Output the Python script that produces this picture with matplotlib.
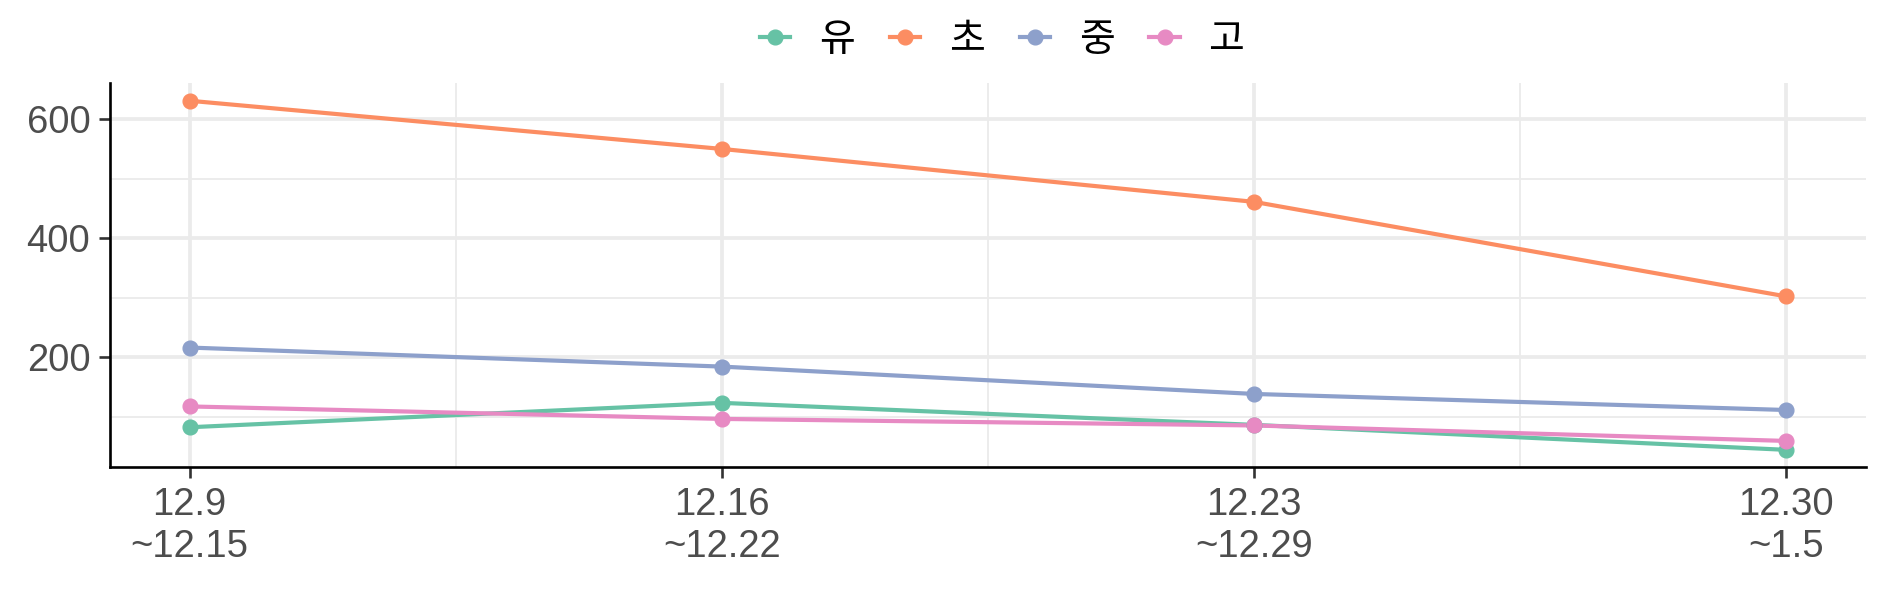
import numpy as np
import matplotlib
matplotlib.use("Agg")
from matplotlib import pyplot as plt
from matplotlib.lines import Line2D

plt.rcParams["font.family"] = ["Liberation Sans", "Noto Sans CJK KR", "DejaVu Sans"]

# Data
periods = ["12.9\n~12.15", "12.16\n~12.22", "12.23\n~12.29", "12.30\n~1.5"]
groups = ["유", "초", "중", "고"]
kindergarten = [82, 123, 86, 44]
elementary = [631, 550, 461, 302]
middle = [216, 184, 138, 111]
high = [117, 96, 85, 59]
series = [kindergarten, elementary, middle, high]
colors = ["#66C2A5", "#FC8D62", "#8DA0CB", "#E78AC3"]

W, H = 1889, 590
fig = plt.figure(figsize=(W / 100, H / 100), dpi=100)
ax = fig.add_axes([109.8 / W, 1 - 467.3 / H, (1866 - 109.8) / W, (467.3 - 83.3) / H])

x = np.arange(1, len(periods) + 1)

# Grid (ggplot-like)
for v in [1.5, 2.5, 3.5]:
    ax.axvline(v, color="#EBEBEB", lw=1.3, zorder=0)
for v in x:
    ax.axvline(v, color="#EBEBEB", lw=2.7, zorder=0)
for v in [100, 300, 500]:
    ax.axhline(v, color="#EBEBEB", lw=1.3, zorder=0)
for v in [200, 400, 600]:
    ax.axhline(v, color="#EBEBEB", lw=2.7, zorder=0)

for vals, c in zip(series, colors):
    ax.plot(x, vals, color=c, lw=3.0, zorder=2, solid_capstyle="butt")
for vals, c in zip(series, colors):
    ax.plot(x, vals, "o", color=c, ms=10.6, zorder=3)

allv = np.concatenate([np.array(s) for s in series])
lo, hi = allv.min(), allv.max()
pad = (hi - lo) * 0.05
ax.set_ylim(lo - pad, hi + pad)
ax.set_xlim(1 - 0.15, 4 + 0.15)

ax.set_xticks(x)
ax.set_xticklabels(periods, fontsize=27.5, color="#4D4D4D", linespacing=1.22)
ax.set_yticks([200, 400, 600])
ax.set_yticklabels(["200", "400", "600"], fontsize=27.5, color="#4D4D4D")
ax.tick_params(axis="both", length=8, width=1.9, color="#333333", pad=6)

for s in ["top", "right"]:
    ax.spines[s].set_visible(False)
for s in ["left", "bottom"]:
    ax.spines[s].set_color("black")
    ax.spines[s].set_linewidth(1.9)

handles = [Line2D([], [], color=c, lw=3.0, marker="o", ms=10.6) for c in colors]
fig.legend(handles, groups, loc="center", bbox_to_anchor=(1002 / W, 1 - 40 / H),
           ncol=4, frameon=False, handlelength=0.78,
           handletextpad=0.74, columnspacing=0.9,
           prop={"family": ["Noto Sans CJK KR", "DejaVu Sans"], "size": 28})

fig.savefig("out.png", dpi=100)
